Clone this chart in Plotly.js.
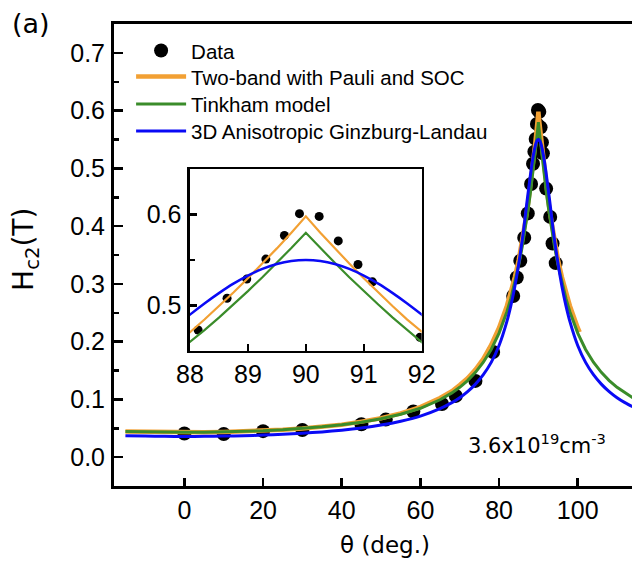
<!DOCTYPE html>
<html><head><meta charset="utf-8">
<script src="https://cdn.plot.ly/plotly-3.0.1.min.js"></script>
<style>html,body{margin:0;padding:0;background:#fff;overflow:hidden}</style>
</head><body><div id="chart" style="width:632px;height:565px"></div>
<script>
// Measured data points (theta in degrees, Hc2 in tesla)
const dataTheta = [0, 10, 20, 30, 45, 51.2, 58.2, 65.5, 69, 74, 78.5, 83.6, 84.5, 85.4, 86.4, 87.3,
  88.14, 88.64, 88.98, 89.31, 89.63, 89.89, 90.23, 90.56, 90.9, 91.15, 91.97, 93.0, 93.6, 94.4];
const dataHc2 = [0.041, 0.040, 0.045, 0.047, 0.057, 0.065, 0.079, 0.092, 0.106, 0.132, 0.182, 0.279, 0.311, 0.340, 0.380, 0.422,
  0.473, 0.508, 0.529, 0.551, 0.577, 0.601, 0.598, 0.571, 0.545, 0.526, 0.465, 0.416, 0.370, 0.336];

// Model curves
const fitTheta = [-15, -10, -5, 0, 5, 10, 15, 20, 25, 30, 35, 40, 45, 50, 55, 60, 65, 68, 70, 72, 74, 76, 78, 80, 82, 83, 84, 85, 86, 86.5, 87, 87.5,
  88, 88.25, 88.5, 88.75, 89, 89.25, 89.5, 89.75, 90, 90.25, 90.5, 90.75, 91, 91.25, 91.5, 91.75, 92,
  92.5, 93, 93.5, 94, 95, 96, 97, 98, 100, 102, 104, 106, 108, 110, 112, 114];
const tinkhamHc2 = [0.0445, 0.0437, 0.0432, 0.0430, 0.0432, 0.0437, 0.0445, 0.0457, 0.0474, 0.0496, 0.0524, 0.0559, 0.0605, 0.0664, 0.0742, 0.0846, 0.0993, 0.1112, 0.1209, 0.1326, 0.1468, 0.1643, 0.1864, 0.2147, 0.2518, 0.2748, 0.3015, 0.3325, 0.3686, 0.3889, 0.4107, 0.4343,
  0.4596, 0.4729, 0.4867, 0.5010, 0.5158, 0.5311, 0.5469, 0.5632, 0.5800, 0.5632, 0.5469, 0.5311, 0.5158, 0.5010, 0.4867, 0.4729, 0.4596,
  0.4343, 0.4107, 0.3889, 0.3686, 0.3325, 0.3015, 0.2748, 0.2518, 0.2147, 0.1864, 0.1643, 0.1468, 0.1326, 0.1209, 0.1112, 0.1029];
const glHc2 = [0.0371, 0.0364, 0.0360, 0.0358, 0.0360, 0.0364, 0.0371, 0.0381, 0.0395, 0.0413, 0.0437, 0.0467, 0.0505, 0.0555, 0.0622, 0.0711, 0.0839, 0.0943, 0.1029, 0.1135, 0.1264, 0.1428, 0.1641, 0.1934, 0.2352, 0.2624, 0.2950, 0.3343, 0.3811, 0.4082, 0.4367, 0.4637,
  0.4899, 0.5022, 0.5136, 0.5240, 0.5329, 0.5402, 0.5456, 0.5489, 0.5500, 0.5489, 0.5456, 0.5402, 0.5329, 0.5240, 0.5136, 0.5022, 0.4899,
  0.4637, 0.4367, 0.4082, 0.3811, 0.3343, 0.2950, 0.2624, 0.2352, 0.1934, 0.1641, 0.1428, 0.1264, 0.1135, 0.1029, 0.0943, 0.0871];
const twoBandTheta = [-15, -10, -5, 0, 5, 10, 15, 20, 25, 30, 35, 40, 45, 50, 55, 60, 65, 68, 70, 72, 74, 76, 78, 80, 82, 83, 84, 85, 86, 86.5, 87, 87.5,
  88, 88.25, 88.5, 88.75, 89, 89.25, 89.5, 89.75, 90, 90.25, 90.5, 90.75, 91, 91.25, 91.5, 91.75, 92,
  92.5, 93, 93.5, 94, 95, 96, 97, 98, 100, 100.5];
const twoBandHc2 = [0.0445, 0.0437, 0.0432, 0.0430, 0.0432, 0.0437, 0.0445, 0.0457, 0.0474, 0.0496, 0.0524, 0.0559, 0.0615, 0.0674, 0.0757, 0.0866, 0.1023, 0.1142, 0.1249, 0.1366, 0.1518, 0.1703, 0.1944, 0.2242, 0.2622, 0.2848, 0.3113, 0.3415, 0.3781, 0.3993, 0.4211, 0.4448,
  0.4705, 0.4845, 0.4991, 0.5142, 0.5299, 0.5461, 0.5628, 0.5801, 0.5980, 0.5801, 0.5628, 0.5461, 0.5299, 0.5142, 0.4991, 0.4845, 0.4705,
  0.4448, 0.4211, 0.3993, 0.3781, 0.3415, 0.3113, 0.2848, 0.2622, 0.2242, 0.2163];

const seriesNames = ['Data', 'Two-band with Pauli and SOC', 'Tinkham model', '3D Anisotropic Ginzburg-Landau'];
const mainXTicks = [0, 20, 40, 60, 80, 100];
const mainYTicks = [0.0, 0.1, 0.2, 0.3, 0.4, 0.5, 0.6, 0.7];
const insetXTicks = [88, 89, 90, 91, 92];
const insetYTicks = [0.5, 0.6];

const C_OR = '#F2A033', C_GR = '#3A8C2A', C_BL = '#0A0AF5';
const TICKF = {family: 'Liberation Sans, Arial, sans-serif', size: 25, color: '#000'};
const TITLEF = {family: 'DejaVu Sans, sans-serif', color: '#000'};
const legendIds = ['legend', 'legend2', 'legend3', 'legend4'];

function traces(xa, ya, main) {
  const t = [
    {x: dataTheta, y: dataHc2, type: 'scatter', mode: 'markers', name: seriesNames[0], xaxis: xa, yaxis: ya,
     showlegend: main, marker: {color: '#000', size: main ? 14 : 9}},
    {x: twoBandTheta, y: twoBandHc2, type: 'scatter', mode: 'lines', name: seriesNames[1], xaxis: xa, yaxis: ya,
     showlegend: main, line: {color: C_OR, width: main ? 4.5 : 2.2}},
    {x: fitTheta, y: tinkhamHc2, type: 'scatter', mode: 'lines', name: seriesNames[2], xaxis: xa, yaxis: ya,
     showlegend: main, line: {color: C_GR, width: main ? 3 : 2.2}},
    {x: fitTheta, y: glHc2, type: 'scatter', mode: 'lines', name: seriesNames[3], xaxis: xa, yaxis: ya,
     showlegend: main, line: {color: C_BL, width: main ? 3 : 2.5, shape: 'spline', smoothing: 0.6}}
  ];
  if (main) t.forEach((tr, i) => { tr.legend = legendIds[i]; });
  return t;
}

const data = traces('x', 'y', true).concat(traces('x2', 'y2', false));

function legendRow(yc) {
  return {
    x: 0.033, y: yc, xanchor: 'left', yanchor: 'middle', bgcolor: 'rgba(0,0,0,0)', borderwidth: 0,
    font: {family: 'Liberation Sans, Arial, sans-serif', size: 20.5, color: '#000'},
    itemwidth: 50
  };
}

const layout = {
  width: 632, height: 565,
  margin: {l: 114, r: 0, t: 24, b: 79},
  paper_bgcolor: '#fff', plot_bgcolor: 'rgba(0,0,0,0)',
  showlegend: true,
  xaxis: {
    range: [-17.9, 113.8], tickvals: mainXTicks, ticks: 'inside', ticklen: 8, tickwidth: 2.5, tickcolor: '#000',
    showline: true, linewidth: 3, linecolor: '#000', mirror: true, showgrid: false, zeroline: false,
    tickfont: TICKF, ticklabelstandoff: 0
  },
  yaxis: {
    range: [-0.05, 0.75], tickvals: mainYTicks, tickformat: '.1f', ticks: 'inside', ticklen: 9, tickwidth: 2.5, tickcolor: '#000',
    minor: {dtick: 0.05, tick0: 0, ticks: 'inside', ticklen: 5, tickwidth: 2.5, tickcolor: '#000', showgrid: false},
    showline: true, linewidth: 3, linecolor: '#000', mirror: false, showgrid: false, zeroline: false,
    tickfont: TICKF, ticklabelstandoff: 1
  },
  xaxis2: {
    domain: [0.1467, 0.594], anchor: 'y2', range: [88, 92], tickvals: insetXTicks,
    ticks: 'inside', ticklen: 7, tickwidth: 2.5, tickcolor: '#000',
    showline: true, linewidth: 2.5, linecolor: '#000', mirror: true, showgrid: false, zeroline: false,
    tickfont: TICKF, ticklabelstandoff: 0
  },
  yaxis2: {
    domain: [0.2924, 0.6859], anchor: 'x2', range: [0.45, 0.65], tickvals: insetYTicks, tickformat: '.1f',
    ticks: 'inside', ticklen: 7, tickwidth: 2.5, tickcolor: '#000',
    minor: {dtick: 0.05, tick0: 0, ticks: 'inside', ticklen: 5, tickwidth: 2.5, tickcolor: '#000', showgrid: false},
    showline: true, linewidth: 2.5, linecolor: '#000', mirror: true, showgrid: false, zeroline: false,
    tickfont: TICKF, ticklabelstandoff: 1
  },
  legend: legendRow(0.9422),
  legend2: legendRow(0.8858),
  legend3: legendRow(0.8267),
  legend4: legendRow(0.7682),
  annotations: [
    {text: '(a)', xref: 'paper', yref: 'paper', x: -0.2, y: 1.039, xanchor: 'left', yanchor: 'top', showarrow: false,
     font: Object.assign({size: 27}, TITLEF)},
    {text: 'θ (deg.)', xref: 'paper', yref: 'paper', x: 0.5232, y: -0.1284, xanchor: 'center', yanchor: 'middle', showarrow: false,
     font: Object.assign({size: 23}, TITLEF)},
    {text: 'H<sub>c2</sub>(T)', xref: 'paper', yref: 'paper', x: -0.17, y: 0.513, xanchor: 'center', yanchor: 'middle', showarrow: false,
     textangle: -90, font: Object.assign({size: 28}, TITLEF)},
    {text: '3.6x10<sup>19</sup>cm<sup>-3</sup>', xref: 'paper', yref: 'paper', x: 0.6795, y: 0.09, xanchor: 'left', yanchor: 'middle', showarrow: false,
     font: Object.assign({size: 21}, TITLEF)}
  ]
};

Plotly.newPlot('chart', data, layout, {displayModeBar: false, staticPlot: true});
</script></body></html>
